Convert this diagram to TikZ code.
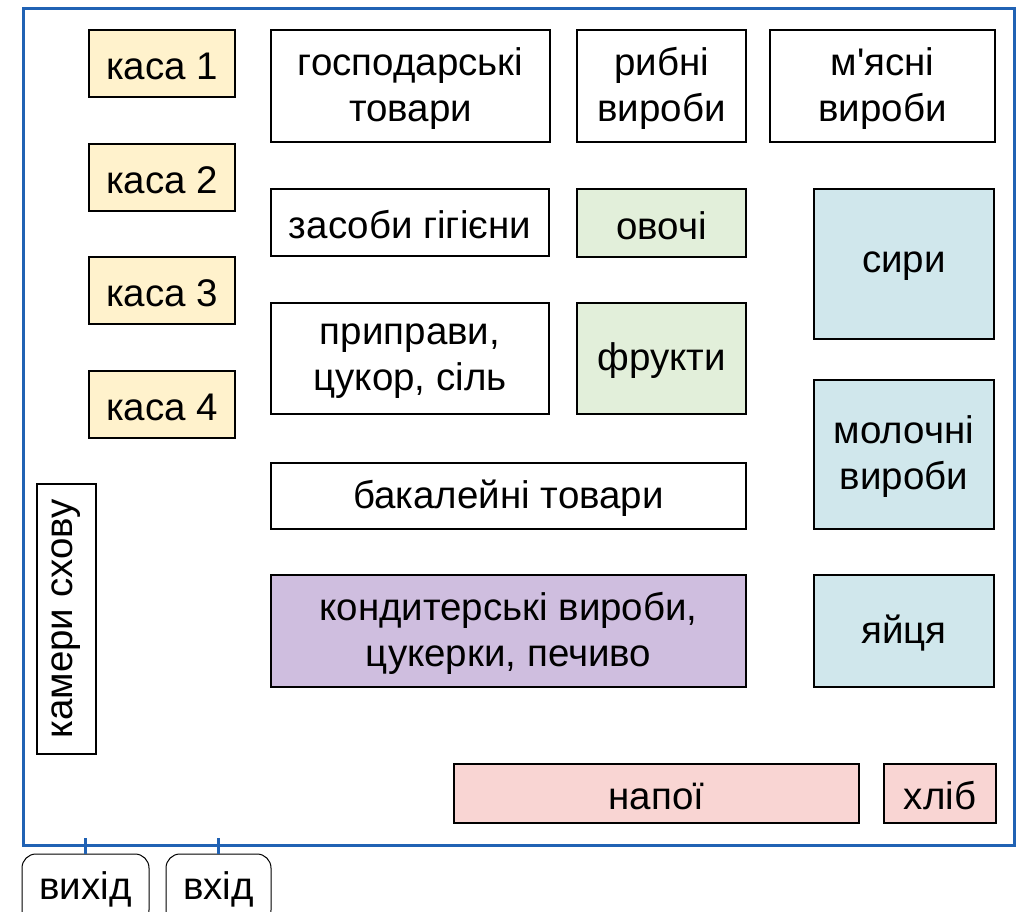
\documentclass[tikz,border=0pt]{standalone}
\usepackage{fontspec}
\setmainfont{Liberation Sans}[Ligatures=TeXOff]
\definecolor{bordblue}{HTML}{2062B4}
\definecolor{cashfill}{HTML}{FFF2CC}
\definecolor{vegfill}{HTML}{E2EFDA}
\definecolor{dairyfill}{HTML}{D0E7EC}
\definecolor{sweetfill}{HTML}{CFBEDF}
\definecolor{drinkfill}{HTML}{F9D5D3}
\tikzset{
  shelf/.style={draw=black,line width=1.2pt,inner sep=0pt},
  lbl/.style={inner sep=0pt,align=center,font=\fontsize{38.5}{46}\selectfont},
  door/.style={draw=black,line width=1pt,rounded corners=14pt,inner sep=0pt,text height=24pt,text depth=4pt,font=\fontsize{38.5}{46}\selectfont},
  wall/.style={draw=bordblue,line width=3pt},
  tick/.style={draw=bordblue,line width=2.5pt}
}
\newcommand\bx[7]{\node[shelf,fill=#6,minimum width={#4-#2},minimum height={#5-#3}] (#1) at ({(#2+#4)/2},{(#3+#5)/2}) {};
  \node[lbl] (#1t) at ([yshift=-2.5pt]#1.center) {#7};}
\begin{document}
\begin{tikzpicture}[x=1pt,y=-1pt]
\useasboundingbox (0,0) rectangle (1018,912);
\clip (0,0) rectangle (1018,912);
\fill[white] (0,0) rectangle (1018,912);
\draw[wall] (23,9) rectangle (1014,845);
\bx{k1}{89}{30}{235}{97}{cashfill}{каса 1}
\bx{k2}{89}{144}{235}{211}{cashfill}{каса 2}
\bx{k3}{89}{257}{235}{324}{cashfill}{каса 3}
\bx{k4}{89}{371}{235}{438}{cashfill}{каса 4}
\node[shelf,fill=white,minimum width=270,minimum height=59,rotate=90,font=\fontsize{38.5}{46}\selectfont] (cam) at (66.5,619) {камери схову};
\bx{gosp}{271}{30}{550}{142}{white}{господарські\\товари}
\bx{ryb}{577}{30}{746}{142}{white}{рибні\\вироби}
\bx{myas}{770}{30}{995}{142}{white}{м'ясні\\вироби}
\bx{gig}{271}{189}{549}{256}{white}{засоби гігієни}
\bx{ovo}{577}{189}{746}{257}{vegfill}{овочі}
\bx{syr}{814}{189}{994}{339}{dairyfill}{сири}
\bx{prip}{271}{303}{549}{414}{white}{приправи,\\цукор, сіль}
\bx{fru}{577}{303}{746}{414}{vegfill}{фрукти}
\bx{mol}{814}{380}{994}{529}{dairyfill}{молочні\\вироби}
\bx{bak}{271}{463}{746}{529}{white}{бакалейні товари}
\bx{kond}{271}{575}{746}{687}{sweetfill}{кондитерські вироби,\\цукерки, печиво}
\bx{yay}{814}{575}{994}{687}{dairyfill}{яйця}
\bx{nap}{454}{764}{859}{823}{drinkfill}{напої}
\bx{hlib}{884}{764}{996}{823}{drinkfill}{хліб}
\node[door,minimum width=127,minimum height=70] (vyh) at (85.5,889) {вихід};
\node[door,minimum width=105,minimum height=70] (vh) at (218.5,889) {вхід};
\coordinate (t1) at (85.5,838);
\coordinate (t2) at (218.5,838);
\draw[tick] (vyh.north) -- (t1);
\draw[tick] (vh.north) -- (t2);
\end{tikzpicture}
\end{document}
